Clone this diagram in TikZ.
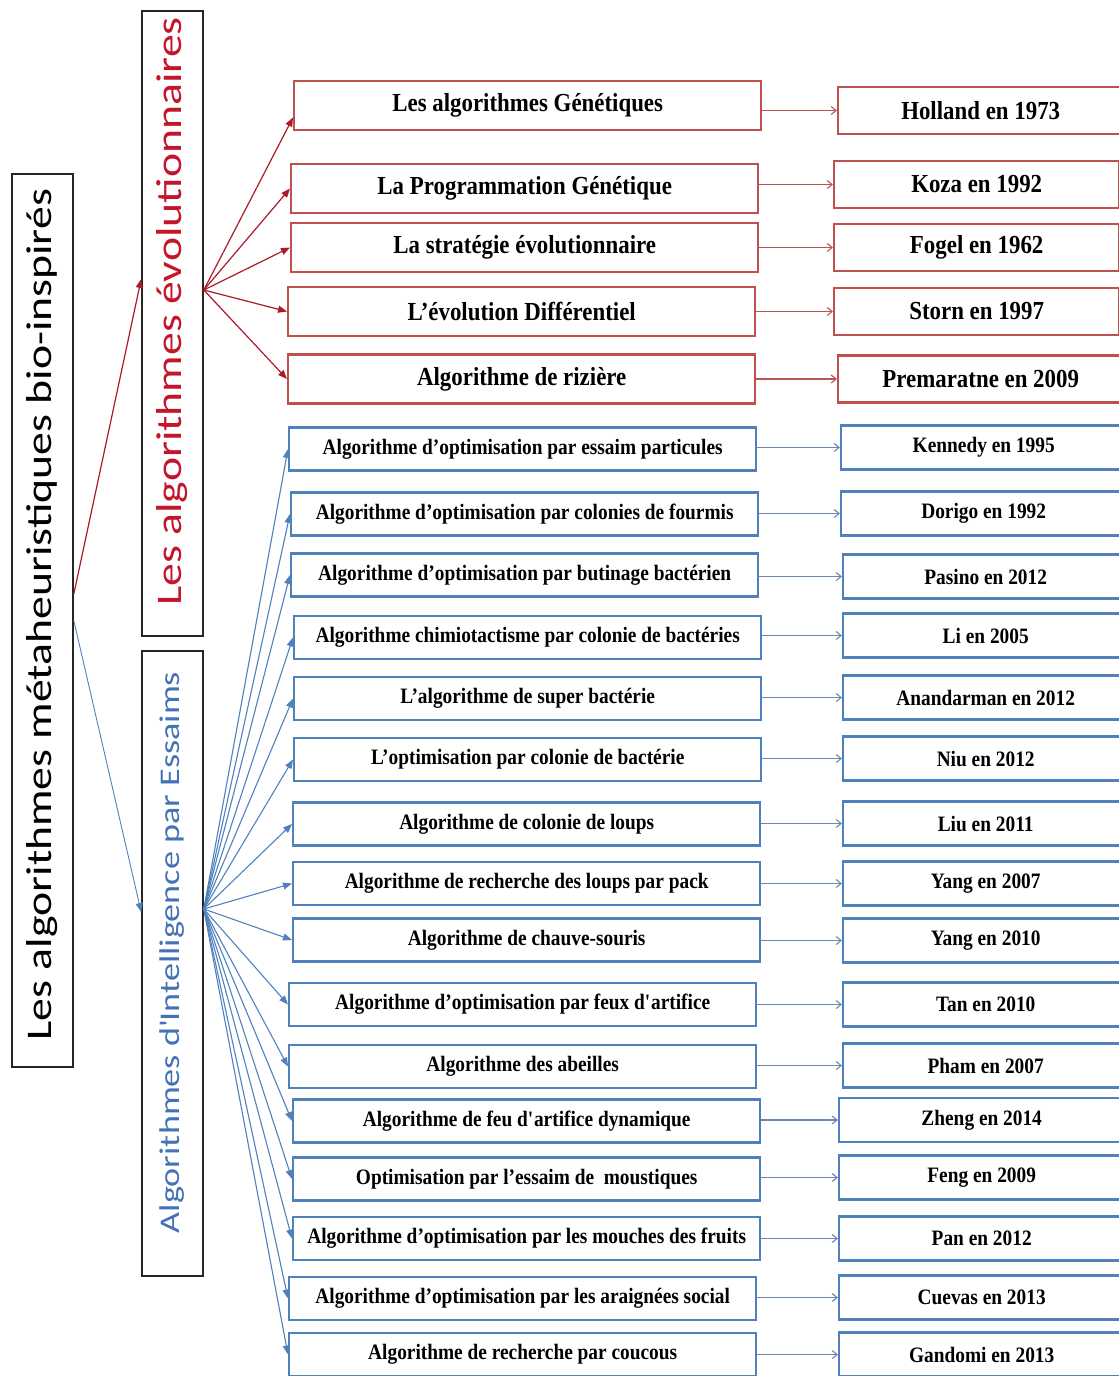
\documentclass[tikz,border=0pt]{standalone}
\usepackage{fontspec}
\setmainfont{Liberation Serif}
\newfontfamily\boxfont[FakeStretch=0.88]{Liberation Serif}
\newfontfamily\catfont[FakeStretch=1.27]{Carlito}
\usetikzlibrary{arrows.meta}

\definecolor{evored}{RGB}{192,80,77}
\definecolor{evotext}{RGB}{196,22,42}
\definecolor{arrowred}{RGB}{172,26,40}
\definecolor{linkred}{RGB}{185,85,85}
\definecolor{swblue}{RGB}{79,129,189}
\definecolor{swtext}{RGB}{68,114,182}
\definecolor{arrowblue}{RGB}{79,129,189}
\definecolor{linkblue}{RGB}{105,135,175}

\begin{document}
\begin{tikzpicture}[x=1pt, y=-1pt,
    catbox/.style={draw=black!85, line width=1.6pt, rotate=90, minimum height=61pt, inner sep=0pt, font=\catfont},
    evobox/.style={draw=evored, line width=2.4pt, anchor=west, minimum width=467pt, minimum height=49pt, inner sep=0pt, font=\boxfont\bfseries\fontsize{26}{30}\selectfont},
    evoref/.style={evobox, minimum width=285pt, minimum height=47pt},
    swbox/.style={draw=swblue, line width=2.4pt, anchor=west, minimum width=467pt, minimum height=43pt, inner sep=0pt, font=\boxfont\bfseries\fontsize{22}{26}\selectfont},
    swref/.style={swbox, minimum width=285pt, minimum height=44pt},
    fanevo/.style={draw=arrowred, line width=1.2pt, -{Triangle[length=9pt,width=7pt]}},
    fanswarm/.style={draw=arrowblue, line width=1.1pt, -{Triangle[length=9pt,width=7pt]}},
    linkevo/.style={draw=linkred, line width=1.1pt, -{Straight Barb[length=5pt,width=8pt]}},
    linkswarm/.style={draw=linkblue, line width=1.1pt, -{Straight Barb[length=5pt,width=8pt]}}
]
\useasboundingbox (0,0) rectangle (1119,1376);
\clip (0,0) rectangle (1119,1376);

\node[catbox, minimum width=893pt] (root) at (42.5,620.5) {\fontsize{36}{40}\selectfont\hspace*{12pt}Les algorithmes métaheuristiques bio-inspirés};
\node[catbox, minimum width=625pt, text=evotext] (evo) at (172.5,323.5) {\fontsize{36}{40}\selectfont\hspace*{24pt}Les algorithmes évolutionnaires};
\node[catbox, minimum width=625pt, text=swtext] (swarm) at (172.5,963.5) {\fontsize{28.5}{32}\selectfont\hspace*{22pt}Algorithmes d\textquotesingle Intelligence par Essaims};

\node[evobox] (evo1) at (293,105.5) {Les algorithmes Génétiques};
\node[evobox] (evo2) at (290,188.5) {La Programmation Génétique};
\node[evobox] (evo3) at (290,247.5) {La stratégie évolutionnaire};
\node[evobox] (evo4) at (287,311.5) {L’évolution Différentiel};
\node[evobox] (evo5) at (287,379) {Algorithme de rizière};

\node[evoref] (evoref1) at (837,110.5) {Holland en 1973};
\node[evoref] (evoref2) at (833,184.5) {Koza en 1992};
\node[evoref] (evoref3) at (833,247.5) {Fogel en 1962};
\node[evoref] (evoref4) at (833,311.5) {Storn en 1997};
\node[evoref] (evoref5) at (837,379) {Premaratne en 2009};

\node[swbox] (sw1) at (288,449) {Algorithme d’optimisation par essaim particules};
\node[swbox] (sw2) at (290,514) {Algorithme d’optimisation par colonies de fourmis};
\node[swbox] (sw3) at (290,575) {Algorithme d’optimisation par butinage bactérien};
\node[swbox] (sw4) at (293,637.5) {Algorithme chimiotactisme par colonie de bactéries};
\node[swbox] (sw5) at (293,698.5) {L’algorithme de super bactérie};
\node[swbox] (sw6) at (293,759.5) {L’optimisation par colonie de bactérie};
\node[swbox] (sw7) at (292,824) {Algorithme de colonie de loups};
\node[swbox] (sw8) at (292,883.5) {Algorithme de recherche des loups par pack};
\node[swbox] (sw9) at (292,940) {Algorithme de chauve-souris};
\node[swbox] (sw10) at (288,1004.5) {Algorithme d’optimisation par feux d\textquotesingle artifice};
\node[swbox] (sw11) at (288,1066.5) {Algorithme des abeilles};
\node[swbox] (sw12) at (292,1121) {Algorithme de feu d\textquotesingle artifice dynamique};
\node[swbox] (sw13) at (292,1179) {Optimisation par l’essaim de~ moustiques};
\node[swbox] (sw14) at (292,1238.5) {Algorithme d’optimisation par les mouches des fruits};
\node[swbox] (sw15) at (288,1298.5) {Algorithme d’optimisation par les araignées social};
\node[swbox] (sw16) at (288,1354.5) {Algorithme de recherche par coucous};

\node[swref] (swref1) at (840,447.5) {Kennedy en 1995};
\node[swref] (swref2) at (840,513.5) {Dorigo en 1992};
\node[swref] (swref3) at (842,576.5) {Pasino en 2012};
\node[swref] (swref4) at (842,635.5) {Li en 2005};
\node[swref] (swref5) at (842,697.5) {Anandarman en 2012};
\node[swref] (swref6) at (842,758.5) {Niu en 2012};
\node[swref] (swref7) at (842,823.5) {Liu en 2011};
\node[swref] (swref8) at (842,883.5) {Yang en 2007};
\node[swref] (swref9) at (842,940.5) {Yang en 2010};
\node[swref] (swref10) at (842,1004.5) {Tan en 2010};
\node[swref] (swref11) at (842,1065.5) {Pham en 2007};
\node[swref] (swref12) at (838,1120) {Zheng en 2014};
\node[swref] (swref13) at (838,1177.5) {Feng en 2009};
\node[swref] (swref14) at (838,1238.5) {Pan en 2012};
\node[swref] (swref15) at (838,1297.5) {Cuevas en 2013};
\node[swref] (swref16) at (838,1354.5) {Gandomi en 2013};

\draw[fanevo] ([yshift=26.5pt]root.south) -- ([yshift=44.5pt]evo.north);
\draw[fanswarm, line width=0.9pt] (root.south) -- ([yshift=51.5pt]swarm.north);

\draw[fanevo] ([yshift=33.5pt]evo.south) -- ([yshift=-12pt]evo1.west);
\foreach \i in {2,...,5}
    \draw[fanevo] ([yshift=33.5pt]evo.south) -- (evo\i.west);
\foreach \i in {1,...,16}
    \draw[fanswarm] ([yshift=54.5pt]swarm.south) -- (sw\i.west);

\foreach \i in {1,...,5}
    \draw[linkevo] (evo\i.east |- evoref\i.west) -- (evoref\i.west);
\foreach \i in {1,...,16}
    \draw[linkswarm] (sw\i.east |- swref\i.west) -- (swref\i.west);
\end{tikzpicture}
\end{document}
